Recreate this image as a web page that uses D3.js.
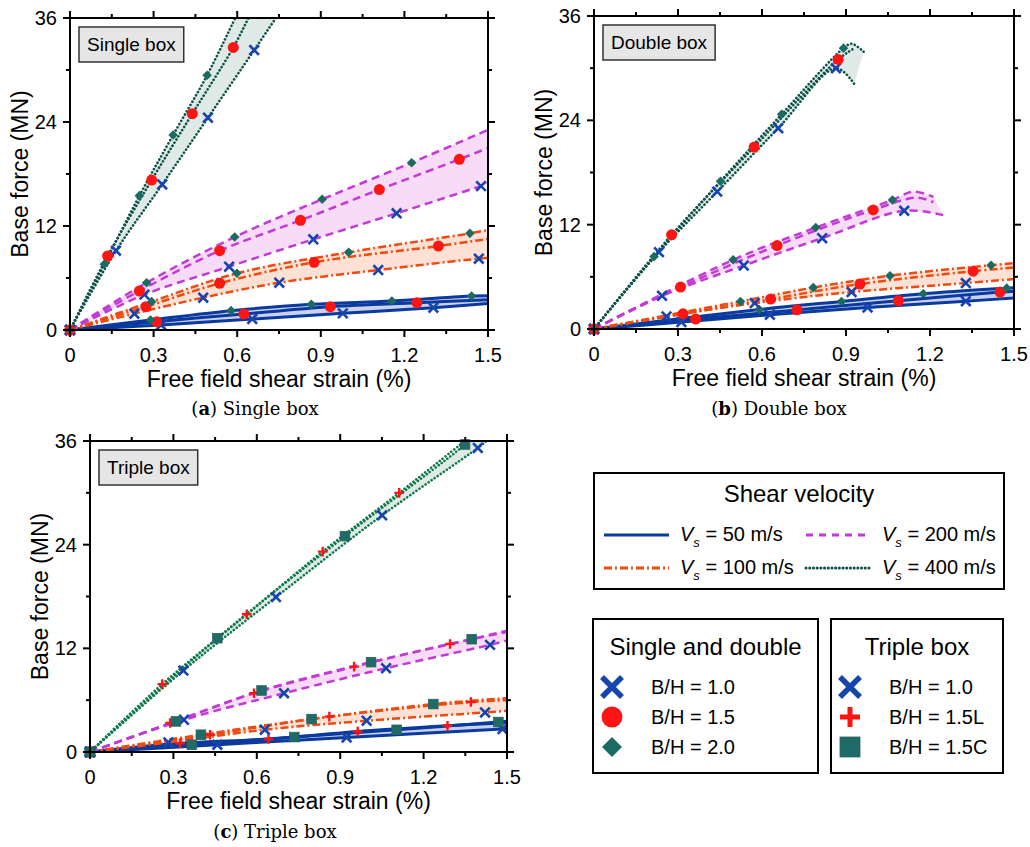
<!DOCTYPE html>
<html>
<head>
<meta charset="utf-8">
<script src="https://cdn.jsdelivr.net/npm/d3@7"></script>
<style>
	body { margin: 0; background: #fff; }
	svg { font-family: "Liberation Sans", Arial, sans-serif; }
	.caption { font-family: "DejaVu Serif", serif; }
</style>
</head>
<body>
<svg id="chart" width="1030" height="847"></svg>
<script>

// tick values
var xMajor = [0, 0.3, 0.6, 0.9, 1.2, 1.5];
var xMinor = [0.15, 0.45, 0.75, 1.05, 1.35];
var yMajor = [0, 12, 24, 36];
var yMinor = [6, 18, 30];

var vsNames = ["50", "100", "200", "400"];
var bhSingleDouble = ["B/H = 1.0", "B/H = 1.5", "B/H = 2.0"];
var bhTriple = ["B/H = 1.0", "B/H = 1.5L", "B/H = 1.5C"];

// each group = [B/H 1.0, B/H 1.5 (1.5L), B/H 2.0 (1.5C)]
// point = [free field strain %, base force MN, 1 if a marker sits there]
var singleVs50 = [
	[[0,0,1],[0.327,0.58,1],[0.654,1.27,1],[0.979,1.92,1],[1.304,2.57,1],[1.5,3.05,0]],
	[[0,0,1],[0.311,0.96,1],[0.624,1.85,1],[0.934,2.69,1],[1.245,3.15,1],[1.5,3.5,0]],
	[[0,0,1],[0.289,1.15,1],[0.578,2.23,1],[0.866,2.96,1],[1.155,3.35,1],[1.441,3.92,1],[1.5,3.96,0]]
];
var singleVs100 = [
	[[0,0,1],[0.231,1.88,1],[0.478,3.73,1],[0.751,5.46,1],[1.106,6.92,1],[1.467,8.23,1],[1.5,8.3,0]],
	[[0,0,1],[0.272,2.69,1],[0.537,5.38,1],[0.876,7.81,1],[1.322,9.69,1],[1.5,10.5,0]],
	[[0,0,1],[0.293,3.27,1],[0.599,6.54,1],[1.0,8.96,1],[1.435,11.15,1],[1.5,11.54,0]]
];
var singleVs200 = [
	[[0,0,1],[0.267,4.08,1],[0.571,7.31,1],[0.873,10.46,1],[1.172,13.46,1],[1.475,16.6,1],[1.5,16.85,0]],
	[[0,0,1],[0.249,4.5,1],[0.537,9.15,1],[0.827,12.65,1],[1.11,16.2,1],[1.397,19.7,1],[1.5,21.0,0]],
	[[0,0,1],[0.275,5.46,1],[0.591,10.73,1],[0.905,15.08,1],[1.226,19.3,1],[1.5,23.1,0]]
];
var singleVs400 = [
	[[0,0,1],[0.165,9.15,1],[0.331,16.8,1],[0.495,24.5,1],[0.661,32.3,1],[0.745,36.3,0]],
	[[0,0,1],[0.135,8.54,1],[0.293,17.3,1],[0.439,24.96,1],[0.586,32.6,1],[0.645,36.3,0]],
	[[0,0,1],[0.123,7.58,1],[0.249,15.5,1],[0.37,22.5,1],[0.492,29.4,1],[0.597,36.3,0]]
];

var doubleVs50 = [
	[[0,0,1],[0.312,0.8,1],[0.628,1.64,1],[0.977,2.48,1],[1.328,3.2,1],[1.5,3.56,0]],
	[[0,0,1],[0.363,1.15,1],[0.725,2.2,1],[1.087,3.25,1],[1.45,4.25,1],[1.5,4.35,0]],
	[[0,0,1],[0.59,2.25,1],[0.884,3.17,1],[1.176,4.05,1],[1.474,4.7,1],[1.5,4.75,0]]
];
var doubleVs100 = [
	[[0,0,1],[0.259,1.45,1],[0.574,2.98,1],[0.92,4.25,1],[1.328,5.28,1],[1.5,5.74,0]],
	[[0,0,1],[0.318,1.74,1],[0.631,3.44,1],[0.95,5.17,1],[1.354,6.65,1],[1.5,7.07,0]],
	[[0,0,1],[0.523,3.17,1],[0.783,4.76,1],[1.057,6.13,1],[1.418,7.34,1],[1.5,7.57,0]]
];
var doubleVs200 = [
	[[0,0,1],[0.243,3.82,1],[0.535,7.3,1],[0.815,10.45,1],[1.108,13.6,1],[1.247,13.1,0]],
	[[0,0,1],[0.309,4.82,1],[0.654,9.6,1],[0.997,13.7,1],[1.15,15.1,0],[1.212,14.6,0]],
	[[0,0,1],[0.497,7.96,1],[0.792,11.67,1],[1.066,14.84,1],[1.14,15.8,0],[1.212,15.2,0]]
];
var doubleVs400 = [
	[[0,0,1],[0.232,8.84,1],[0.44,15.8,1],[0.658,23.1,1],[0.864,30.0,1],[0.929,28.2,0]],
	[[0,0,1],[0.277,10.83,1],[0.572,20.93,1],[0.872,31.0,1],[0.93,32.3,0]],
	[[0,0,1],[0.2145,8.33,1],[0.452,17.0,1],[0.67,24.7,1],[0.891,32.3,1],[0.92,32.8,0],[0.963,31.9,0]]
];

var tripleVs50 = [
	[[0,0,1],[0.458,0.84,1],[0.923,1.69,1],[1.484,2.66,1],[1.5,2.7,0]],
	[[0,0,1],[0.324,1.0,1],[0.642,1.5,1],[0.963,2.38,1],[1.286,3.04,1],[1.5,3.4,0]],
	[[0,0,1],[0.366,0.84,1],[0.735,1.73,1],[1.103,2.57,1],[1.469,3.47,1],[1.5,3.55,0]]
];
var tripleVs100 = [
	[[0,0,1],[0.282,1.11,1],[0.629,2.58,1],[0.995,3.62,1],[1.421,4.58,1],[1.5,4.77,0]],
	[[0,0,1],[0.432,2.0,1],[0.861,4.1,1],[1.37,5.78,1],[1.5,6.0,0]],
	[[0,0,1],[0.399,2.0,1],[0.797,3.81,1],[1.235,5.55,1],[1.5,6.24,0]]
];
var tripleVs200 = [
	[[0,0,1],[0.338,3.73,1],[0.698,6.8,1],[1.065,9.7,1],[1.439,12.4,1],[1.5,12.9,0]],
	[[0,0,1],[0.288,3.35,1],[0.59,6.8,1],[0.95,9.88,1],[1.295,12.51,1],[1.5,13.9,0]],
	[[0,0,1],[0.309,3.54,1],[0.617,7.12,1],[1.011,10.4,1],[1.373,13.06,1],[1.5,14.05,0]]
];
var tripleVs400 = [
	[[0,0,1],[0.336,9.43,1],[0.669,17.93,1],[1.051,27.4,1],[1.395,35.2,1],[1.43,36.1,0]],
	[[0,0,1],[0.26,7.86,1],[0.564,15.94,1],[0.837,23.2,1],[1.112,30.0,1],[1.36,36.3,0]],
	[[0,0,1],[0.458,13.17,1],[0.917,24.99,1],[1.349,35.6,1],[1.37,36.3,0]]
];

// line look for each shear velocity
var vsStyle = [
	{color: "#0a3a9e", dash: null, width: 3, fill: "#ccd2ee"},
	{color: "#f04a10", dash: "8,3,2,3", width: 2.5, fill: "#fde1d5"},
	{color: "#c23ad6", dash: "8,5", width: 2.5, fill: "#f8dbf6"},
	{color: "#0c5148", dash: "0.1,3.6", width: 2.6, fill: "#dfe9e6"}
];

var svg = d3.select("#chart");

// marker drawing
function drawMarker(g, type, x, y, s) {
	if (type == "cross") {
		g.append("path")
			.attr("d", "M" + (x - s) + "," + (y - s) + "L" + (x + s) + "," + (y + s) +
				"M" + (x - s) + "," + (y + s) + "L" + (x + s) + "," + (y - s))
			.attr("stroke", "#1745ae").attr("stroke-width", s * 0.55).attr("fill", "none");
	} else if (type == "plus") {
		g.append("path")
			.attr("d", "M" + (x - s) + "," + y + "L" + (x + s) + "," + y +
				"M" + x + "," + (y - s) + "L" + x + "," + (y + s))
			.attr("stroke", "#ff1414").attr("stroke-width", s * 0.5).attr("fill", "none");
	} else if (type == "circle") {
		g.append("circle").attr("cx", x).attr("cy", y).attr("r", s * 1.1).attr("fill", "#ff1414");
	} else if (type == "diamond") {
		g.append("path")
			.attr("d", "M" + x + "," + (y - s) + "L" + (x + s) + "," + y + "L" + x + "," + (y + s) + "L" + (x - s) + "," + y + "Z")
			.attr("fill", "#1c6b62");
	} else if (type == "square") {
		g.append("rect").attr("x", x - s).attr("y", y - s).attr("width", 2 * s).attr("height", 2 * s)
			.attr("fill", "#1f6b68").attr("stroke", "#2f5f5c").attr("stroke-width", 0.8);
	}
}

function drawPanel(p) {
	var x = d3.scaleLinear().domain([0, 1.5]).range([p.left, p.right]);
	var y = d3.scaleLinear().domain([0, 36]).range([p.bottom, p.top]);
	var g = svg.append("g");

	var clipId = "clip-" + p.id;
	svg.append("clipPath").attr("id", clipId)
		.append("rect").attr("x", p.left).attr("y", p.top)
		.attr("width", p.right - p.left).attr("height", p.bottom - p.top);

	var plot = g.append("g").attr("clip-path", "url(#" + clipId + ")");
	var line = d3.line().x(function(d){ return x(d[0]); }).y(function(d){ return y(d[1]); })
		.curve(d3.curveCatmullRom.alpha(0.5));

	// shaded bands between lowest and highest B/H curve
	p.groups.forEach(function(grp, i){
		var up = grp[2], lo = grp[0].slice().reverse();
		var d = line(up) + "L" + line(lo).slice(1) + "Z";
		plot.append("path").attr("d", d).attr("fill", vsStyle[i].fill).attr("stroke", "none");
	});

	// curves
	p.groups.forEach(function(grp, i){
		var st = vsStyle[i];
		var col = (i == 3 && p.greenLine) ? p.greenLine : st.color;
		grp.forEach(function(s){
			plot.append("path").attr("d", line(s))
				.attr("fill", "none").attr("stroke", col)
				.attr("stroke-width", st.width)
				.attr("stroke-dasharray", st.dash)
				.attr("stroke-linecap", i == 3 ? "round" : "butt");
		});
	});

	// markers
	var mk = g.append("g");
	p.groups.forEach(function(grp){
		grp.forEach(function(s, k){
			s.forEach(function(pt){
				if (pt[2]) drawMarker(mk, p.markers[k], x(pt[0]), y(pt[1]), p.markers[k] == "circle" ? 5 : 4.8);
			});
		});
	});

	// frame and ticks (outward, all four sides)
	var ax = g.append("g").attr("stroke", "#000");
	ax.append("rect").attr("x", p.left).attr("y", p.top)
		.attr("width", p.right - p.left).attr("height", p.bottom - p.top)
		.attr("fill", "none").attr("stroke-width", 2);
	function tickX(v, len) {
		ax.append("line").attr("x1", x(v)).attr("x2", x(v)).attr("y1", p.bottom).attr("y2", p.bottom + len).attr("stroke-width", 2);
		ax.append("line").attr("x1", x(v)).attr("x2", x(v)).attr("y1", p.top).attr("y2", p.top - len).attr("stroke-width", 2);
	}
	function tickY(v, len) {
		ax.append("line").attr("y1", y(v)).attr("y2", y(v)).attr("x1", p.left).attr("x2", p.left - len).attr("stroke-width", 2);
		ax.append("line").attr("y1", y(v)).attr("y2", y(v)).attr("x1", p.right).attr("x2", p.right + len).attr("stroke-width", 2);
	}
	xMajor.forEach(function(v){ tickX(v, 7); });
	xMinor.forEach(function(v){ tickX(v, 4); });
	yMajor.forEach(function(v){ tickY(v, 7); });
	yMinor.forEach(function(v){ tickY(v, 4); });

	g.selectAll(".xl").data(xMajor).enter().append("text")
		.attr("x", function(d){ return x(d); }).attr("y", p.bottom + 32)
		.attr("text-anchor", "middle").attr("font-size", 20)
		.text(function(d){ return d == 0 ? "0" : d3.format(".1f")(d); });
	g.selectAll(".yl").data(yMajor).enter().append("text")
		.attr("x", p.left - 13).attr("y", function(d){ return y(d) + 7; })
		.attr("text-anchor", "end").attr("font-size", 20)
		.text(function(d){ return d; });

	g.append("text").attr("x", (p.left + p.right) / 2).attr("y", p.bottom + 57)
		.attr("text-anchor", "middle").attr("font-size", 23)
		.text("Free field shear strain (%)");
	g.append("text")
		.attr("transform", "translate(" + (p.left - 42) + "," + ((p.top + p.bottom) / 2) + ") rotate(-90)")
		.attr("text-anchor", "middle").attr("font-size", 23)
		.text("Base force (MN)");

	// box label
	var lb = g.append("g");
	var lr = lb.append("rect").attr("fill", "#e6e6e6").attr("stroke", "#333").attr("stroke-width", 1.5);
	var lt = lb.append("text").attr("font-size", 19).text(p.label);
	var tw = lt.node().getComputedTextLength();
	lr.attr("x", p.left + 9).attr("y", p.top + 9).attr("width", tw + 16).attr("height", 35);
	lt.attr("x", p.left + 17).attr("y", p.top + 33);

	// caption
	var cap = g.append("text").attr("class", "caption").attr("x", p.left + 185).attr("y", p.captionY)
		.attr("text-anchor", "middle").attr("font-size", 18);
	cap.append("tspan").text("(");
	cap.append("tspan").attr("font-weight", "bold").text(p.letter);
	cap.append("tspan").text(") " + p.label);
}

drawPanel({id: "a", left: 70, right: 488, top: 18, bottom: 330, label: "Single box", letter: "a", captionY: 415,
	groups: [singleVs50, singleVs100, singleVs200, singleVs400], markers: ["cross", "circle", "diamond"]});
drawPanel({id: "b", left: 594, right: 1014, top: 16, bottom: 329, label: "Double box", letter: "b", captionY: 415,
	groups: [doubleVs50, doubleVs100, doubleVs200, doubleVs400], markers: ["cross", "circle", "diamond"]});
drawPanel({id: "c", left: 90, right: 507, top: 441, bottom: 752, label: "Triple box", letter: "c", captionY: 838,
	groups: [tripleVs50, tripleVs100, tripleVs200, tripleVs400], markers: ["cross", "plus", "square"], greenLine: "#0f7a4a"});

// legends
var leg = svg.append("g");
leg.append("rect").attr("x", 594).attr("y", 473).attr("width", 410).attr("height", 116)
	.attr("fill", "#fff").attr("stroke", "#000").attr("stroke-width", 2);
leg.append("text").attr("x", 799).attr("y", 502).attr("text-anchor", "middle").attr("font-size", 24).text("Shear velocity");

var legPos = [[604, 535], [604, 568], [806, 535], [806, 568]];
vsNames.forEach(function(v, i){
	var st = vsStyle[i];
	var lx = legPos[i][0], ly = legPos[i][1];
	leg.append("line").attr("x1", lx).attr("x2", lx + 65).attr("y1", ly).attr("y2", ly)
		.attr("stroke", st.color).attr("stroke-width", 3)
		.attr("stroke-dasharray", i == 2 ? "7,6" : st.dash)
		.attr("stroke-linecap", i == 3 ? "round" : "butt");
	var t = leg.append("text").attr("x", lx + 76).attr("y", ly + 6).attr("font-size", 20);
	t.append("tspan").attr("font-style", "italic").text("V");
	t.append("tspan").attr("font-style", "italic").attr("font-size", 13).attr("dy", 6).text("s");
	t.append("tspan").attr("dy", -6).text(" = " + v + " m/s");
});

function markerBox(bx, bw, title, names, types) {
	leg.append("rect").attr("x", bx).attr("y", 619).attr("width", bw).attr("height", 154)
		.attr("fill", "#fff").attr("stroke", "#000").attr("stroke-width", 2);
	leg.append("text").attr("x", bx + bw / 2).attr("y", 655).attr("text-anchor", "middle")
		.attr("font-size", 24).text(title);
	names.forEach(function(n, i){
		var my = 687 + i * 30;
		drawMarker(leg, types[i], bx + 19, my, types[i] == "circle" ? 9.5 : 10);
		leg.append("text").attr("x", bx + 58).attr("y", my + 7).attr("font-size", 20).text(n);
	});
}
markerBox(593, 225, "Single and double", bhSingleDouble, ["cross", "circle", "diamond"]);
markerBox(831, 172, "Triple box", bhTriple, ["cross", "plus", "square"]);

</script>
</body>
</html>
